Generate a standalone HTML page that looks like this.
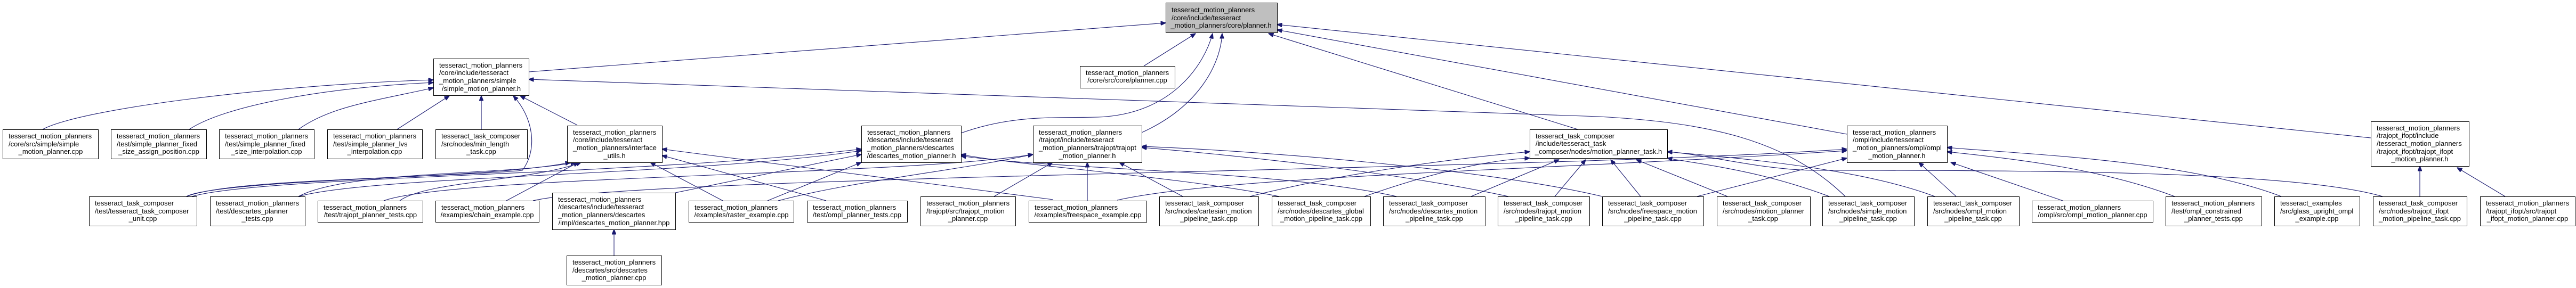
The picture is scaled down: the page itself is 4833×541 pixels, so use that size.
<!DOCTYPE html>
<html><head><meta charset="utf-8"><style>
html,body{margin:0;padding:0;background:#fff;}
svg{display:block;}
text{font-family:"Liberation Sans",Arial,sans-serif;font-size:13px;fill:#000;}
.n{fill:#fff;stroke:#000;stroke-width:1;}
.g{fill:#bfbfbf;stroke:#000;stroke-width:1;}
.e{fill:none;stroke:#191970;stroke-width:1.1;marker-end:url(#a);}
</style></head><body>
<svg width="4833" height="541" viewBox="0 0 4833 541" xmlns="http://www.w3.org/2000/svg">
<defs><marker id="a" viewBox="0 0 10 8" refX="9.5" refY="4" markerWidth="10" markerHeight="8" markerUnits="userSpaceOnUse" orient="auto"><path d="M0,0 L10,4 L0,8 z" fill="#191970" stroke="#191970"/></marker></defs>

<!-- edges -->
<path class="e" d="M2146,124 L2243,63"/>
<path class="e" d="M992,135 L2187,43"/>
<path class="e" d="M1803,250 C1900,215 1980,222 2060,220 C2200,215 2260,120 2275,63"/>
<path class="e" d="M2142,249 C2250,200 2290,120 2293,63"/>
<path class="e" d="M2960,243 L2380,63"/>
<path class="e" d="M3465,252 L2396,56"/>
<path class="e" d="M4448,259 L2396,46"/>
<path class="e" d="M1083,235 L976,180"/>
<path class="e" d="M3462,369 C3350,260 3200,230 3000,219 L992,149"/>
<path class="e" d="M80,243 C150,205 500,160 813,150"/>
<path class="e" d="M355,243 C420,200 600,165 813,155"/>
<path class="e" d="M560,243 C620,200 700,190 813,165"/>
<path class="e" d="M745,243 L843,180"/>
<path class="e" d="M903,243 L903,180"/>
<path class="e" d="M350,369 C400,340 900,330 980,320 C1010,280 1000,220 963,180"/>
<path class="e" d="M350,369 C450,330 900,340 1070,305"/>
<path class="e" d="M560,369 C650,320 950,330 1080,305"/>
<path class="e" d="M750,377 C800,340 1000,340 1090,305"/>
<path class="e" d="M950,377 L1085,305"/>
<path class="e" d="M1356,377 L1220,305"/>
<path class="e" d="M1550,377 L1242,292"/>
<path class="e" d="M1976,375 L1242,280"/>
<path class="e" d="M1267,362 L1616,290"/>
<path class="e" d="M1440,377 L1616,305"/>
<path class="e" d="M360,369 C500,330 1200,330 1616,280"/>
<path class="e" d="M560,369 C700,330 1300,330 1616,283"/>
<path class="e" d="M2400,369 C2200,330 1900,310 1803,290"/>
<path class="e" d="M2620,369 C2400,320 2000,320 1803,293"/>
<path class="e" d="M1865,369 L1975,305"/>
<path class="e" d="M2040,377 L2040,305"/>
<path class="e" d="M2219,369 L2100,305"/>
<path class="e" d="M2830,369 C2600,320 2300,290 2142,277"/>
<path class="e" d="M3006,369 C2800,320 2400,285 2142,275"/>
<path class="e" d="M720,377 C850,330 1700,330 1938,290"/>
<path class="e" d="M1460,377 C1600,340 1800,320 1938,290"/>
<path class="e" d="M2345,369 C2500,330 2700,300 2870,285"/>
<path class="e" d="M2560,369 C2700,320 2800,300 2870,297"/>
<path class="e" d="M2760,369 L2925,300"/>
<path class="e" d="M2917,369 L2975,300"/>
<path class="e" d="M3078,369 L3022,300"/>
<path class="e" d="M3241,369 L3070,300"/>
<path class="e" d="M3432,369 C3300,320 3200,310 3128,297"/>
<path class="e" d="M3630,369 C3500,320 3300,300 3128,285"/>
<path class="e" d="M4470,369 C4300,320 3800,320 3400,320 C3300,318 3200,290 3128,285"/>
<path class="e" d="M2096,376 C2300,330 2900,320 3465,283"/>
<path class="e" d="M1000,377 C1200,330 2900,320 3465,280"/>
<path class="e" d="M3184,369 L3465,297"/>
<path class="e" d="M3670,369 L3600,305"/>
<path class="e" d="M3870,377 L3660,305"/>
<path class="e" d="M4080,369 C3950,320 3800,300 3653,285"/>
<path class="e" d="M4280,369 C4100,300 3800,290 3653,277"/>
<path class="e" d="M4540,369 L4540,312"/>
<path class="e" d="M4700,369 L4610,315"/>
<path class="e" d="M1152,480 L1152,431"/>

<!-- nodes -->
<rect class="g" x="2187.5" y="5.5" width="209" height="56"/>
<text x="2198" y="23">tesseract_motion_planners</text><text x="2198" y="38">/core/include/tesseract</text><text x="2291" y="52" text-anchor="middle">_motion_planners/core/planner.h</text>

<rect class="n" x="2026.5" y="124.5" width="178" height="41"/>
<text x="2037" y="141">tesseract_motion_planners</text><text x="2115" y="155" text-anchor="middle">/core/src/core/planner.cpp</text>

<rect class="n" x="813.5" y="110.5" width="179" height="69"/>
<text x="824" y="127">tesseract_motion_planners</text><text x="824" y="141">/core/include/tesseract</text><text x="824" y="156">_motion_planners/simple</text><text x="903" y="171" text-anchor="middle">/simple_motion_planner.h</text>

<rect class="n" x="5.5" y="243.5" width="179" height="55"/>
<text x="16" y="260">tesseract_motion_planners</text><text x="16" y="275">/core/src/simple/simple</text><text x="95" y="289" text-anchor="middle">_motion_planner.cpp</text>
<rect class="n" x="208.5" y="243.5" width="179" height="55"/>
<text x="219" y="260">tesseract_motion_planners</text><text x="219" y="275">/test/simple_planner_fixed</text><text x="298" y="289" text-anchor="middle">_size_assign_position.cpp</text>
<rect class="n" x="411.5" y="243.5" width="178" height="55"/>
<text x="422" y="260">tesseract_motion_planners</text><text x="422" y="275">/test/simple_planner_fixed</text><text x="500" y="289" text-anchor="middle">_size_interpolation.cpp</text>
<rect class="n" x="614.5" y="243.5" width="178" height="55"/>
<text x="625" y="260">tesseract_motion_planners</text><text x="625" y="275">/test/simple_planner_lvs</text><text x="703" y="289" text-anchor="middle">_interpolation.cpp</text>
<rect class="n" x="817.5" y="243.5" width="172" height="55"/>
<text x="828" y="260">tesseract_task_composer</text><text x="828" y="275">/src/nodes/min_length</text><text x="903" y="289" text-anchor="middle">_task.cpp</text>

<rect class="n" x="1064.5" y="236.5" width="178" height="69"/>
<text x="1075" y="253">tesseract_motion_planners</text><text x="1075" y="267">/core/include/tesseract</text><text x="1075" y="282">_motion_planners/interface</text><text x="1153" y="297" text-anchor="middle">_utils.h</text>
<rect class="n" x="1616.5" y="236.5" width="187" height="69"/>
<text x="1627" y="253">tesseract_motion_planners</text><text x="1627" y="267">/descartes/include/tesseract</text><text x="1627" y="282">_motion_planners/descartes</text><text x="1710" y="297" text-anchor="middle">/descartes_motion_planner.h</text>
<rect class="n" x="1938.5" y="236.5" width="204" height="69"/>
<text x="1949" y="253">tesseract_motion_planners</text><text x="1949" y="267">/trajopt/include/tesseract</text><text x="1949" y="282">_motion_planners/trajopt/trajopt</text><text x="2040" y="297" text-anchor="middle">_motion_planner.h</text>
<rect class="n" x="2870.5" y="243.5" width="258" height="54"/>
<text x="2881" y="260">tesseract_task_composer</text><text x="2881" y="274">/include/tesseract_task</text><text x="2999" y="289" text-anchor="middle">_composer/nodes/motion_planner_task.h</text>
<rect class="n" x="3465.5" y="236.5" width="188" height="69"/>
<text x="3476" y="253">tesseract_motion_planners</text><text x="3476" y="267">/ompl/include/tesseract</text><text x="3476" y="282">_motion_planners/ompl/ompl</text><text x="3559" y="297" text-anchor="middle">_motion_planner.h</text>
<rect class="n" x="4448.5" y="228.5" width="184" height="84"/>
<text x="4459" y="245">tesseract_motion_planners</text><text x="4459" y="259">/trajopt_ifopt/include</text><text x="4459" y="274">/tesseract_motion_planners</text><text x="4459" y="289">/trajopt_ifopt/trajopt_ifopt</text><text x="4540" y="303" text-anchor="middle">_motion_planner.h</text>

<rect class="n" x="167.5" y="369.5" width="202" height="55"/>
<text x="178" y="386">tesseract_task_composer</text><text x="178" y="401">/test/tesseract_task_composer</text><text x="268" y="415" text-anchor="middle">_unit.cpp</text>
<rect class="n" x="394.5" y="369.5" width="178" height="55"/>
<text x="405" y="386">tesseract_motion_planners</text><text x="405" y="401">/test/descartes_planner</text><text x="483" y="415" text-anchor="middle">_tests.cpp</text>
<rect class="n" x="596.5" y="377.5" width="197" height="40"/>
<text x="607" y="394">tesseract_motion_planners</text><text x="695" y="408" text-anchor="middle">/test/trajopt_planner_tests.cpp</text>
<rect class="n" x="817.5" y="377.5" width="194" height="40"/>
<text x="828" y="394">tesseract_motion_planners</text><text x="914" y="408" text-anchor="middle">/examples/chain_example.cpp</text>
<rect class="n" x="1036.5" y="362.5" width="231" height="69"/>
<text x="1047" y="379">tesseract_motion_planners</text><text x="1047" y="393">/descartes/include/tesseract</text><text x="1047" y="408">_motion_planners/descartes</text><text x="1152" y="423" text-anchor="middle">/impl/descartes_motion_planner.hpp</text>
<rect class="n" x="1063.5" y="480.5" width="178" height="55"/>
<text x="1074" y="497">tesseract_motion_planners</text><text x="1074" y="512">/descartes/src/descartes</text><text x="1152" y="526" text-anchor="middle">_motion_planner.cpp</text>
<rect class="n" x="1292.5" y="377.5" width="197" height="40"/>
<text x="1303" y="394">tesseract_motion_planners</text><text x="1391" y="408" text-anchor="middle">/examples/raster_example.cpp</text>
<rect class="n" x="1514.5" y="377.5" width="188" height="40"/>
<text x="1525" y="394">tesseract_motion_planners</text><text x="1608" y="408" text-anchor="middle">/test/ompl_planner_tests.cpp</text>
<rect class="n" x="1727.5" y="369.5" width="178" height="55"/>
<text x="1738" y="386">tesseract_motion_planners</text><text x="1738" y="401">/trajopt/src/trajopt_motion</text><text x="1816" y="415" text-anchor="middle">_planner.cpp</text>
<rect class="n" x="1930.5" y="377.5" width="221" height="40"/>
<text x="1941" y="394">tesseract_motion_planners</text><text x="2041" y="408" text-anchor="middle">/examples/freespace_example.cpp</text>
<rect class="n" x="2175.5" y="369.5" width="186" height="55"/>
<text x="2186" y="386">tesseract_task_composer</text><text x="2186" y="401">/src/nodes/cartesian_motion</text><text x="2268" y="415" text-anchor="middle">_pipeline_task.cpp</text>
<rect class="n" x="2386.5" y="369.5" width="185" height="55"/>
<text x="2397" y="386">tesseract_task_composer</text><text x="2397" y="401">/src/nodes/descartes_global</text><text x="2479" y="415" text-anchor="middle">_motion_pipeline_task.cpp</text>
<rect class="n" x="2595.5" y="369.5" width="191" height="55"/>
<text x="2606" y="386">tesseract_task_composer</text><text x="2606" y="401">/src/nodes/descartes_motion</text><text x="2691" y="415" text-anchor="middle">_pipeline_task.cpp</text>
<rect class="n" x="2810.5" y="369.5" width="172" height="55"/>
<text x="2821" y="386">tesseract_task_composer</text><text x="2821" y="401">/src/nodes/trajopt_motion</text><text x="2896" y="415" text-anchor="middle">_pipeline_task.cpp</text>
<rect class="n" x="3006.5" y="369.5" width="190" height="55"/>
<text x="3017" y="386">tesseract_task_composer</text><text x="3017" y="401">/src/nodes/freespace_motion</text><text x="3101" y="415" text-anchor="middle">_pipeline_task.cpp</text>
<rect class="n" x="3221.5" y="369.5" width="175" height="55"/>
<text x="3232" y="386">tesseract_task_composer</text><text x="3232" y="401">/src/nodes/motion_planner</text><text x="3308" y="415" text-anchor="middle">_task.cpp</text>
<rect class="n" x="3419.5" y="369.5" width="172" height="55"/>
<text x="3430" y="386">tesseract_task_composer</text><text x="3430" y="401">/src/nodes/simple_motion</text><text x="3505" y="415" text-anchor="middle">_pipeline_task.cpp</text>
<rect class="n" x="3616.5" y="369.5" width="172" height="55"/>
<text x="3627" y="386">tesseract_task_composer</text><text x="3627" y="401">/src/nodes/ompl_motion</text><text x="3702" y="415" text-anchor="middle">_pipeline_task.cpp</text>
<rect class="n" x="3812.5" y="377.5" width="227" height="40"/>
<text x="3823" y="394">tesseract_motion_planners</text><text x="3926" y="408" text-anchor="middle">/ompl/src/ompl_motion_planner.cpp</text>
<rect class="n" x="4063.5" y="369.5" width="180" height="55"/>
<text x="4074" y="386">tesseract_motion_planners</text><text x="4074" y="401">/test/ompl_constrained</text><text x="4153" y="415" text-anchor="middle">_planner_tests.cpp</text>
<rect class="n" x="4267.5" y="369.5" width="160" height="55"/>
<text x="4278" y="386">tesseract_examples</text><text x="4278" y="401">/src/glass_upright_ompl</text><text x="4347" y="415" text-anchor="middle">_example.cpp</text>
<rect class="n" x="4452.5" y="369.5" width="176" height="55"/>
<text x="4463" y="386">tesseract_task_composer</text><text x="4463" y="401">/src/nodes/trajopt_ifopt</text><text x="4540" y="415" text-anchor="middle">_motion_pipeline_task.cpp</text>
<rect class="n" x="4653.5" y="369.5" width="178" height="55"/>
<text x="4664" y="386">tesseract_motion_planners</text><text x="4664" y="401">/trajopt_ifopt/src/trajopt</text><text x="4742" y="415" text-anchor="middle">_ifopt_motion_planner.cpp</text>
</svg>
</body></html>
